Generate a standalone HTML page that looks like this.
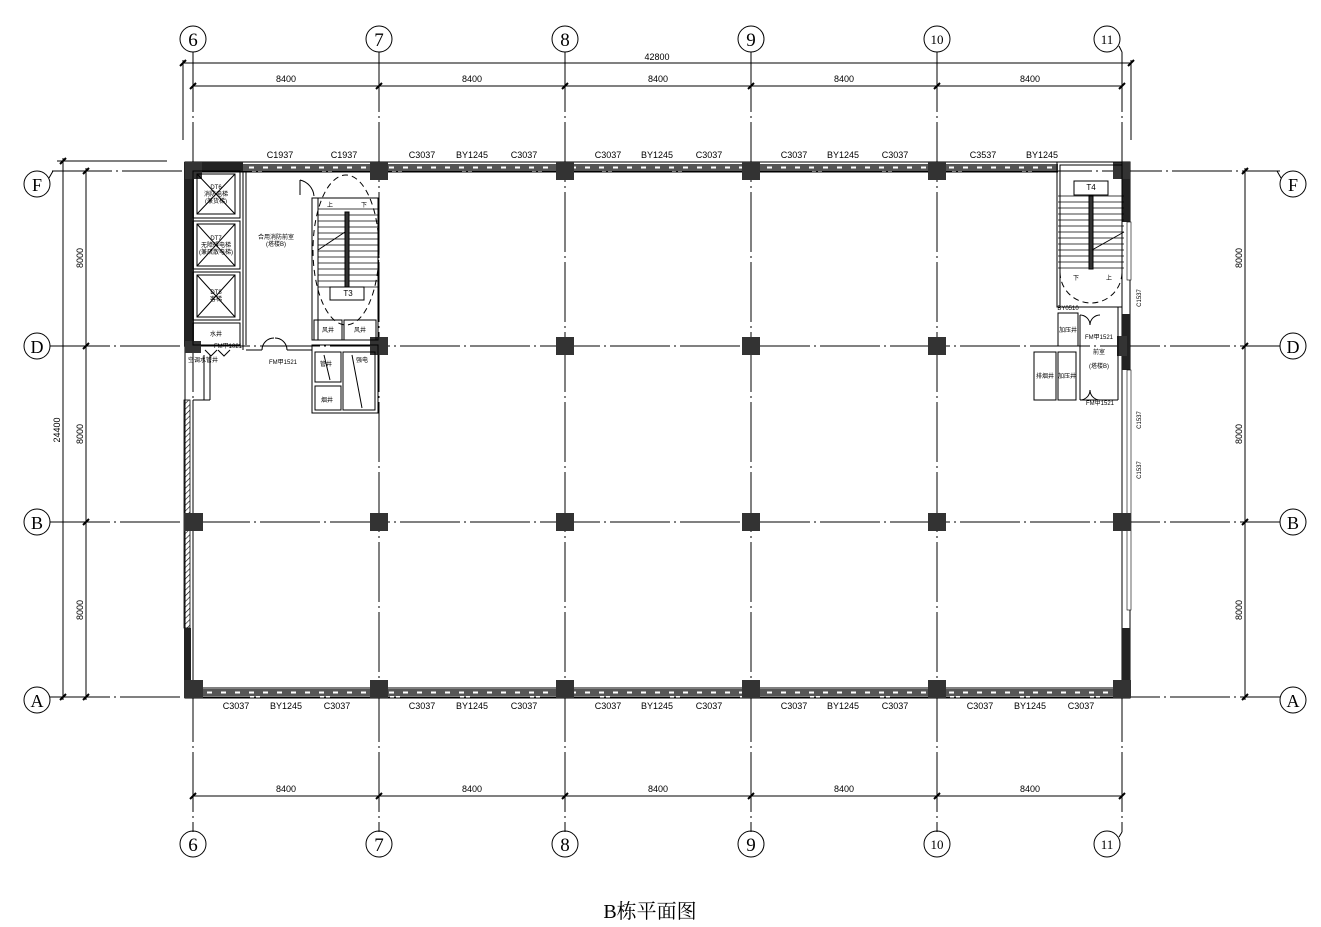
<!DOCTYPE html>
<html><head><meta charset="utf-8"><style>
html,body{margin:0;padding:0;background:#fff}
svg{display:block}
text{font-family:"Liberation Sans","Noto Sans CJK SC",sans-serif;fill:#000}
.s{font-size:9px}
.t{font-size:6px}
.b{font-family:"Liberation Serif","Noto Serif CJK SC",serif;font-size:20px}
</style></head><body>
<svg width="1321" height="927" viewBox="0 0 1321 927" xmlns="http://www.w3.org/2000/svg">
<defs>
<pattern id="h" width="4" height="4" patternUnits="userSpaceOnUse" patternTransform="rotate(45)"><line x1="0" y1="0" x2="0" y2="4" stroke="#000" stroke-width="1.2"/></pattern>
</defs>
<g stroke="#000" stroke-width="1" fill="none">
<!-- vertical grid lines -->
<g stroke-dasharray="60,4,2,4">
<line x1="193" y1="52" x2="193" y2="832"/><line x1="379" y1="52" x2="379" y2="832"/>
<line x1="565" y1="52" x2="565" y2="832"/><line x1="751" y1="52" x2="751" y2="832"/>
<line x1="937" y1="52" x2="937" y2="832"/><line x1="1122" y1="52" x2="1122" y2="832"/>
<!-- horizontal grid -->
<line x1="52" y1="171" x2="1280" y2="171"/><line x1="50" y1="346" x2="1280" y2="346"/>
<line x1="50" y1="522" x2="1280" y2="522"/><line x1="50" y1="697" x2="1280" y2="697"/>
</g>
<!-- bubbles -->
<circle cx="193" cy="39" r="13"/><circle cx="379" cy="39" r="13"/><circle cx="565" cy="39" r="13"/>
<circle cx="751" cy="39" r="13"/><circle cx="937" cy="39" r="13"/><circle cx="1107" cy="39" r="13"/>
<circle cx="193" cy="844" r="13"/><circle cx="379" cy="844" r="13"/><circle cx="565" cy="844" r="13"/>
<circle cx="751" cy="844" r="13"/><circle cx="937" cy="844" r="13"/><circle cx="1107" cy="844" r="13"/>
<path d="M1119,46 L1122,52 M1119,837 L1122,832"/>
<circle cx="37" cy="184" r="13"/><circle cx="37" cy="346" r="13"/><circle cx="37" cy="522" r="13"/><circle cx="37" cy="700" r="13"/>
<circle cx="1293" cy="184" r="13"/><circle cx="1293" cy="346" r="13"/><circle cx="1293" cy="522" r="13"/><circle cx="1293" cy="700" r="13"/>
<path d="M49,178 L53,171 M1281,178 L1277,171"/>
<!-- top dims -->
<line x1="183" y1="63" x2="1132" y2="63"/>
<line x1="183" y1="60" x2="183" y2="140"/><line x1="1131" y1="60" x2="1131" y2="140"/>
<line x1="193" y1="86" x2="1122" y2="86"/>
<!-- bottom dims -->
<line x1="193" y1="796" x2="1122" y2="796"/>
<!-- left dims -->
<line x1="57" y1="161" x2="167" y2="161"/>
<line x1="63" y1="158" x2="63" y2="700"/>
<line x1="86" y1="168" x2="86" y2="700"/>
<line x1="57" y1="697" x2="100" y2="697"/>
<!-- right dims -->
<line x1="1245" y1="168" x2="1245" y2="700"/>
</g>
<!-- ticks -->
<g stroke="#000" stroke-width="2">
<path d="M180,66 l6,-6 M1128,66 l6,-6 M190,89 l6,-6 M376,89 l6,-6 M562,89 l6,-6 M748,89 l6,-6 M934,89 l6,-6 M1119,89 l6,-6"/>
<path d="M190,799 l6,-6 M376,799 l6,-6 M562,799 l6,-6 M748,799 l6,-6 M934,799 l6,-6 M1119,799 l6,-6"/>
<path d="M60,164 l6,-6 M60,700 l6,-6 M83,174 l6,-6 M83,349 l6,-6 M83,525 l6,-6 M83,700 l6,-6"/>
<path d="M1242,174 l6,-6 M1242,349 l6,-6 M1242,525 l6,-6 M1242,700 l6,-6"/>
</g>
<!-- outer walls -->
<g stroke="#000" fill="none">
<rect x="185" y="162" width="945" height="536" stroke-width="1"/>
<line x1="193" y1="172" x2="1058" y2="172"/>
<line x1="193" y1="688" x2="1122" y2="688"/>
<line x1="1122" y1="305" x2="1122" y2="688"/>
<line x1="193" y1="400" x2="193" y2="688"/>
</g>
<rect x="193" y="164" width="865" height="7" fill="#555"/>
<line x1="193" y1="167.5" x2="1058" y2="167.5" stroke="#fff" stroke-width="2" stroke-dasharray="5,9"/>
<rect x="193" y="689" width="929" height="7" fill="#555"/>
<line x1="193" y1="692.5" x2="1122" y2="692.5" stroke="#fff" stroke-width="2" stroke-dasharray="5,9"/>
<rect x="184" y="400" width="6" height="228" fill="url(#h)" stroke="#000" stroke-width="0.8"/>
<rect x="184" y="628" width="7" height="70" fill="#222"/>
<rect x="184" y="162" width="10" height="184" fill="#222"/>
<rect x="185" y="162" width="58" height="9" fill="#222"/>
<rect x="1122" y="162" width="8" height="60" fill="#222"/>
<rect x="1127" y="222" width="4" height="58" fill="#fff" stroke="#000" stroke-width="0.6"/>
<rect x="1122" y="314" width="8" height="56" fill="#222"/>
<rect x="1127" y="370" width="4" height="240" fill="#fff" stroke="#000" stroke-width="0.6"/>
<rect x="1122" y="628" width="8" height="70" fill="#222"/>
<!-- columns -->
<g fill="#333">
<rect x="185" y="162" width="17" height="17"/>
<rect x="370" y="162" width="18" height="18"/><rect x="556" y="162" width="18" height="18"/>
<rect x="742" y="162" width="18" height="18"/><rect x="928" y="162" width="18" height="18"/>
<rect x="1113" y="162" width="17" height="17"/>
<rect x="370" y="337" width="18" height="18"/><rect x="556" y="337" width="18" height="18"/>
<rect x="742" y="337" width="18" height="18"/><rect x="928" y="337" width="18" height="18"/>
<rect x="1117" y="336" width="10" height="20"/>
<rect x="184" y="513" width="19" height="18"/><rect x="370" y="513" width="18" height="18"/>
<rect x="556" y="513" width="18" height="18"/><rect x="742" y="513" width="18" height="18"/>
<rect x="928" y="513" width="18" height="18"/><rect x="1113" y="513" width="18" height="18"/>
<rect x="184" y="680" width="19" height="18"/><rect x="370" y="680" width="18" height="18"/>
<rect x="556" y="680" width="18" height="18"/><rect x="742" y="680" width="18" height="18"/>
<rect x="928" y="680" width="18" height="18"/><rect x="1113" y="680" width="18" height="18"/>
<rect x="185" y="341" width="16" height="12"/>
</g>
<!-- left core -->
<g stroke="#000" stroke-width="1" fill="none">
<rect x="193" y="171" width="47" height="47"/><rect x="197" y="174" width="38" height="40"/>
<path d="M197,174 L235,214 M235,174 L197,214"/>
<rect x="193" y="221" width="47" height="48"/><rect x="197" y="224" width="38" height="42"/>
<path d="M197,224 L235,266 M235,224 L197,266"/>
<rect x="193" y="272" width="47" height="48"/><rect x="197" y="275" width="38" height="42"/>
<path d="M197,275 L235,317 M235,275 L197,317"/>
<rect x="193" y="323" width="47" height="22"/>
<line x1="243" y1="172" x2="243" y2="350"/><line x1="246" y1="172" x2="246" y2="345"/>
<line x1="246" y1="350" x2="262" y2="350"/><line x1="287" y1="350" x2="312" y2="350"/>
<path d="M262,350 a12,12 0 0 1 12,-12 M287,350 a12,12 0 0 0 -12,-12"/>
<rect x="312" y="198" width="66" height="142"/>
<line x1="318" y1="198" x2="318" y2="340"/>
<g stroke-width="0.8">
<line x1="318" y1="209" x2="378" y2="209"/><line x1="318" y1="215" x2="378" y2="215"/><line x1="318" y1="221" x2="378" y2="221"/>
<line x1="318" y1="227" x2="378" y2="227"/><line x1="318" y1="233" x2="378" y2="233"/><line x1="318" y1="239" x2="378" y2="239"/>
<line x1="318" y1="245" x2="378" y2="245"/><line x1="318" y1="251" x2="378" y2="251"/><line x1="318" y1="257" x2="378" y2="257"/>
<line x1="318" y1="263" x2="378" y2="263"/><line x1="318" y1="269" x2="378" y2="269"/><line x1="318" y1="275" x2="378" y2="275"/>
<line x1="318" y1="281" x2="378" y2="281"/><line x1="318" y1="287" x2="378" y2="287"/>
</g>
<rect x="345" y="212" width="4" height="75" fill="#333"/>
<rect x="330" y="287" width="34" height="13"/>
<path d="M318,250 L345,232" />
<ellipse cx="346" cy="250" rx="33" ry="75" stroke-dasharray="6,4"/>
<rect x="314" y="320" width="28" height="20"/><rect x="344" y="320" width="32" height="20"/>
<rect x="312" y="345" width="66" height="68"/>
<rect x="315" y="352" width="26" height="30"/><rect x="343" y="352" width="32" height="58"/>
<rect x="315" y="386" width="26" height="24"/>
<path d="M324,355 L330,380 M352,355 L362,408"/>
<line x1="204" y1="355" x2="204" y2="400"/><line x1="193" y1="400" x2="210" y2="400"/><line x1="210" y1="355" x2="210" y2="400"/>
<path d="M205,350 l6,6 l6,-6 M218,350 l6,6 l6,-6"/>
<line x1="300" y1="180" x2="300" y2="195"/><path d="M300,180 a18,18 0 0 1 14,16"/>
</g>
<!-- right core -->
<g stroke="#000" stroke-width="1" fill="none">
<rect x="1057" y="162" width="65" height="145"/><rect x="1060" y="165" width="62" height="142"/>
<rect x="1074" y="181" width="34" height="14"/>
<g stroke-width="0.8">
<line x1="1058" y1="196" x2="1124" y2="196"/><line x1="1058" y1="202" x2="1124" y2="202"/><line x1="1058" y1="208" x2="1124" y2="208"/>
<line x1="1058" y1="214" x2="1124" y2="214"/><line x1="1058" y1="220" x2="1124" y2="220"/><line x1="1058" y1="226" x2="1124" y2="226"/>
<line x1="1058" y1="232" x2="1124" y2="232"/><line x1="1058" y1="238" x2="1124" y2="238"/><line x1="1058" y1="244" x2="1124" y2="244"/>
<line x1="1058" y1="250" x2="1124" y2="250"/><line x1="1058" y1="256" x2="1124" y2="256"/><line x1="1058" y1="262" x2="1124" y2="262"/>
<line x1="1058" y1="268" x2="1124" y2="268"/>
</g>
<rect x="1089" y="196" width="4" height="73" fill="#333"/>
<path d="M1092,250 L1124,232"/>
<path d="M1060,272 a30,30 0 0 0 62,0" stroke-dasharray="6,4"/>
<rect x="1058" y="313" width="20" height="33"/><rect x="1058" y="352" width="18" height="48"/>
<rect x="1034" y="352" width="22" height="48"/>
<line x1="1080" y1="315" x2="1080" y2="400"/>
<path d="M1080,315 a10,10 0 0 1 10,10 M1100,315 a10,10 0 0 0 -10,10 M1080,400 a10,10 0 0 0 10,-10 M1100,400 a10,10 0 0 1 -10,-10"/>
<line x1="1118" y1="307" x2="1118" y2="400"/><line x1="1080" y1="400" x2="1118" y2="400"/>
</g>
</svg>
<div style="position:absolute;left:0;top:0;width:1321px;height:927px">
<svg width="1321" height="927" xmlns="http://www.w3.org/2000/svg">
<g text-anchor="middle">
<text class="b" x="193" y="46" style="font-size:19px">6</text><text class="b" x="379" y="46" style="font-size:19px">7</text>
<text class="b" x="565" y="46" style="font-size:19px">8</text><text class="b" x="751" y="46" style="font-size:19px">9</text>
<text class="b" x="937" y="44" style="font-size:13px">10</text><text class="b" x="1107" y="44" style="font-size:13px">11</text>
<text class="b" x="193" y="851" style="font-size:19px">6</text><text class="b" x="379" y="851" style="font-size:19px">7</text>
<text class="b" x="565" y="851" style="font-size:19px">8</text><text class="b" x="751" y="851" style="font-size:19px">9</text>
<text class="b" x="937" y="849" style="font-size:13px">10</text><text class="b" x="1107" y="849" style="font-size:13px">11</text>
<text class="b" x="37" y="191" style="font-size:18px">F</text><text class="b" x="37" y="353" style="font-size:18px">D</text>
<text class="b" x="37" y="529" style="font-size:18px">B</text><text class="b" x="37" y="707" style="font-size:18px">A</text>
<text class="b" x="1293" y="191" style="font-size:18px">F</text><text class="b" x="1293" y="353" style="font-size:18px">D</text>
<text class="b" x="1293" y="529" style="font-size:18px">B</text><text class="b" x="1293" y="707" style="font-size:18px">A</text>
<text class="s" x="657" y="60">42800</text>
<text class="s" x="286" y="82">8400</text><text class="s" x="472" y="82">8400</text><text class="s" x="658" y="82">8400</text>
<text class="s" x="844" y="82">8400</text><text class="s" x="1030" y="82">8400</text>
<text class="s" x="286" y="792">8400</text><text class="s" x="472" y="792">8400</text><text class="s" x="658" y="792">8400</text>
<text class="s" x="844" y="792">8400</text><text class="s" x="1030" y="792">8400</text>
<text class="s" x="280" y="158">C1937</text><text class="s" x="344" y="158">C1937</text>
<text class="s" x="422" y="158">C3037</text><text class="s" x="472" y="158">BY1245</text><text class="s" x="524" y="158">C3037</text>
<text class="s" x="608" y="158">C3037</text><text class="s" x="657" y="158">BY1245</text><text class="s" x="709" y="158">C3037</text>
<text class="s" x="794" y="158">C3037</text><text class="s" x="843" y="158">BY1245</text><text class="s" x="895" y="158">C3037</text>
<text class="s" x="983" y="158">C3537</text><text class="s" x="1042" y="158">BY1245</text>
<text class="s" x="236" y="709">C3037</text><text class="s" x="286" y="709">BY1245</text><text class="s" x="337" y="709">C3037</text>
<text class="s" x="422" y="709">C3037</text><text class="s" x="472" y="709">BY1245</text><text class="s" x="524" y="709">C3037</text>
<text class="s" x="608" y="709">C3037</text><text class="s" x="657" y="709">BY1245</text><text class="s" x="709" y="709">C3037</text>
<text class="s" x="794" y="709">C3037</text><text class="s" x="843" y="709">BY1245</text><text class="s" x="895" y="709">C3037</text>
<text class="s" x="980" y="709">C3037</text><text class="s" x="1030" y="709">BY1245</text><text class="s" x="1081" y="709">C3037</text>
<text class="s" transform="translate(60,430) rotate(-90)">24400</text>
<text class="s" transform="translate(83,258) rotate(-90)">8000</text>
<text class="s" transform="translate(83,434) rotate(-90)">8000</text>
<text class="s" transform="translate(83,610) rotate(-90)">8000</text>
<text class="s" transform="translate(1242,258) rotate(-90)">8000</text>
<text class="s" transform="translate(1242,434) rotate(-90)">8000</text>
<text class="s" transform="translate(1242,610) rotate(-90)">8000</text>
<text class="t" transform="translate(1141,298) rotate(-90)">C1537</text>
<text class="t" transform="translate(1141,420) rotate(-90)">C1537</text>
<text class="t" transform="translate(1141,470) rotate(-90)">C1537</text>
<text class="t" x="216" y="189">DT6</text><text class="t" x="216" y="196">消防电梯</text><text class="t" x="216" y="203">(兼货梯)</text>
<text class="t" x="216" y="240">DT7</text><text class="t" x="216" y="247">无障碍电梯</text><text class="t" x="216" y="254">(兼疏散电梯)</text>
<text class="t" x="216" y="294">DT8</text><text class="t" x="216" y="301">客梯</text>
<text class="t" x="216" y="336">水井</text>
<text class="t" x="276" y="239">合用消防前室</text><text class="t" x="276" y="246">(塔楼B)</text>
<text class="t" x="348" y="296" style="font-size:8px">T3</text>
<text class="t" x="330" y="207">上</text><text class="t" x="364" y="207">下</text>
<text class="t" x="328" y="332">风井</text><text class="t" x="360" y="332">风井</text>
<text class="t" x="326" y="366">管井</text><text class="t" x="362" y="362">强电</text><text class="t" x="327" y="402">烟井</text>
<text class="t" x="283" y="364">FM甲1521</text>
<text class="t" x="228" y="348">FM甲1021</text>
<text class="t" x="203" y="362">空调水管井</text>
<text class="t" x="1091" y="190" style="font-size:8px">T4</text>
<text class="t" x="1076" y="280">下</text><text class="t" x="1109" y="280">上</text>
<text class="t" x="1068" y="310">BY0510</text>
<text class="t" x="1068" y="332">加压井</text><text class="t" x="1067" y="378">加压井</text><text class="t" x="1045" y="378">排烟井</text>
<text class="t" x="1099" y="339">FM甲1521</text><text class="t" x="1100" y="405">FM甲1521</text>
<text class="t" x="1099" y="354">前室</text><text class="t" x="1099" y="368">(塔楼B)</text>
</g>
<text class="b" x="650" y="918" text-anchor="middle" style="font-size:20px">B栋平面图</text>
</svg></div>
</body></html>
